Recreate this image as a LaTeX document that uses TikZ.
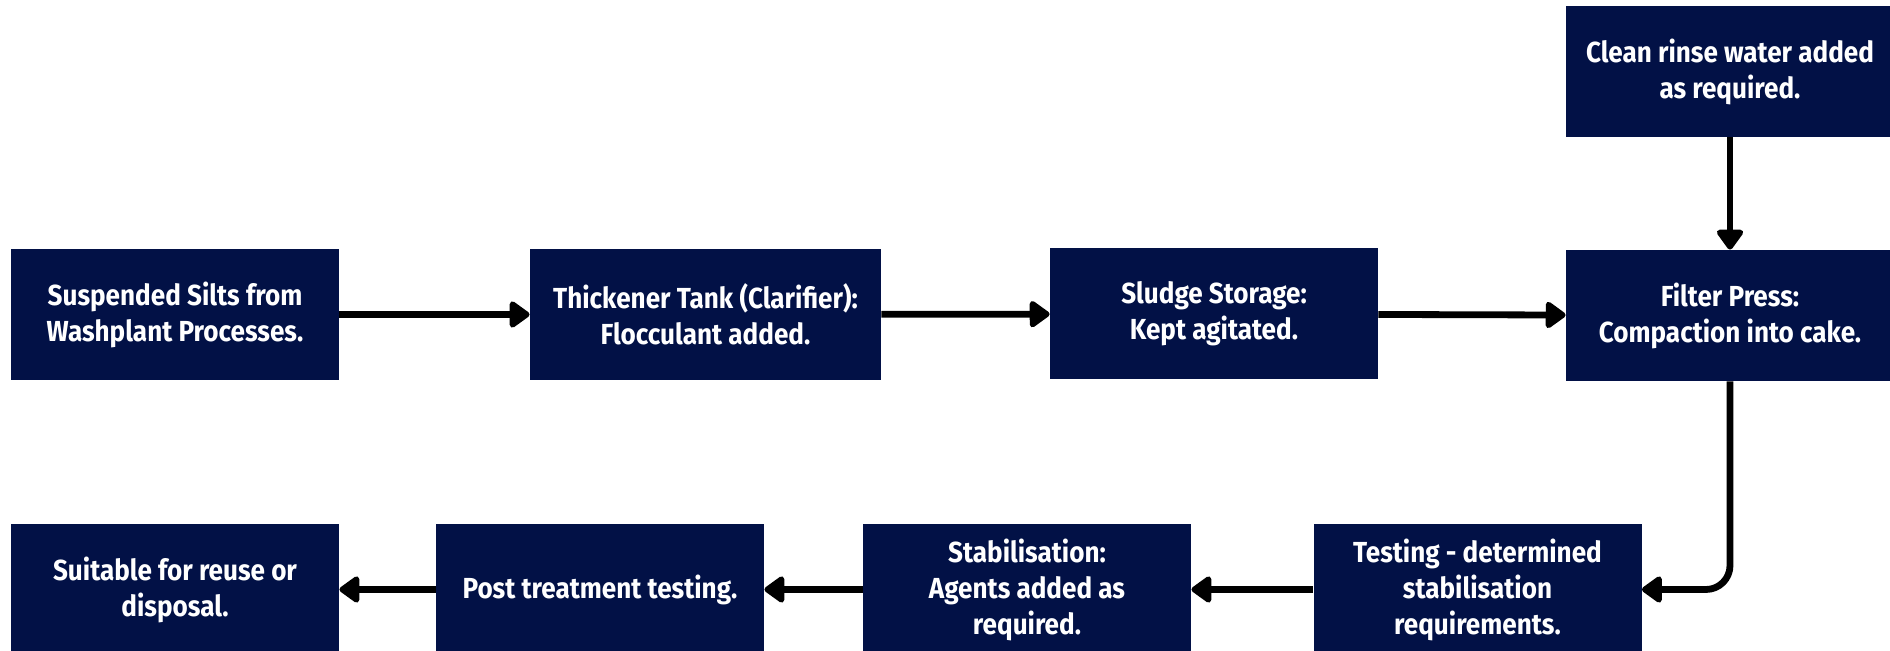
\documentclass[tikz,border=0pt]{standalone}
\usepackage{fontspec}
\setmainfont[FakeStretch=0.9]{Fira Sans}
\usepackage{tikz}
\usetikzlibrary{arrows.meta}
\definecolor{navy}{RGB}{2,17,70}
\tikzset{
    stage/.style={rectangle,fill=navy,text=white,minimum width=164pt,minimum height=65.5pt,inner sep=0pt,align=center,font=\fontsize{14.5}{18}\selectfont\bfseries},
    flow/.style={line width=3.4pt,-{Triangle[round,length=11pt,width=15pt]}}
}

\begin{document}
\begin{tikzpicture}[x=0.5pt,y=-0.5pt]
                            \useasboundingbox (0,0) rectangle (1890,651);
                            \node[stage] (clean) at (1730,71.5) {Clean rinse water added\\as required.};
                            \node[stage] (silts) at (175,314.5) {Suspended Silts from\\Washplant Processes.};
                            \node[stage,minimum width=175.5pt] (thickener) at (705.5,314.5) {Thickener Tank (Clarifier):\\Flocculant added.};
                            \node[stage] (sludge) at (1214,314) {Sludge Storage:\\Kept agitated.};
                            \node[stage] (filter) at (1730,315.5) {Filter Press:\\Compaction into cake.};
                            \node[stage] (reuse) at (175,589.5) {Suitable for reuse or\\disposal.};
                            \node[stage] (post) at (600,589.5) {Post treatment testing.};
                            \node[stage] (stabil) at (1027,589.5) {Stabilisation:\\Agents added as\\required.};
                            \node[stage] (testing) at (1477.5,589.5) {Testing - determined\\stabilisation\\requirements.};
                            \draw[flow] (silts) -- (thickener);
                            \draw[flow] (thickener) -- (sludge);
                            \draw[flow] (sludge) -- (filter);
                            \draw[flow] (clean) -- (filter);
                            \draw[flow,rounded corners=12pt] (filter.south) |- (testing.east);
                            \draw[flow] (testing) -- (stabil);
                            \draw[flow] (stabil) -- (post);
                            \draw[flow] (post) -- (reuse);
                        \end{tikzpicture}
\end{document}
